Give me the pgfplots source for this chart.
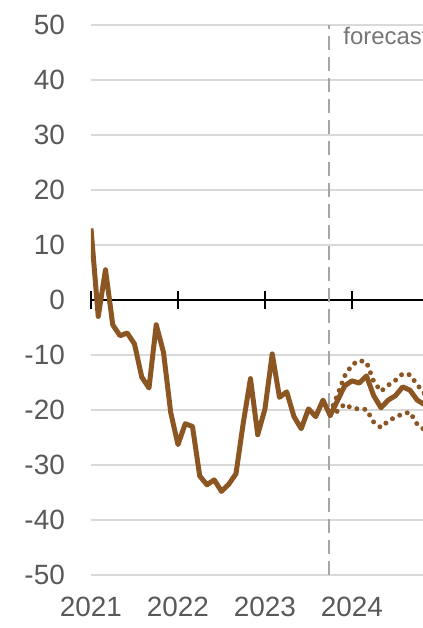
\documentclass[border=0pt]{standalone}
\usepackage{pgfplots}
\pgfplotsset{compat=1.18}
\usepackage{fontspec}
\setmainfont{Liberation Sans}
\definecolor{brn}{RGB}{140,86,35}
\definecolor{grd}{RGB}{217,217,217}
\definecolor{lbl}{RGB}{89,89,89}
\definecolor{dsh}{RGB}{166,166,166}
\pgfplotstableread{
m v
0 13
1 -3
2 5.5
3 -4.5
4 -6.5
5 -6
6 -8
7 -14
8 -16
9 -4.5
10 -9.5
11 -20.5
12 -26.3
13 -22.5
14 -23
15 -32
16 -33.6
17 -32.7
18 -34.8
19 -33.5
20 -31.6
21 -22.4
22 -14.3
23 -24.5
24 -19.8
25 -9.8
26 -17.7
27 -16.7
28 -21.2
29 -23.4
30 -19.8
31 -21.2
32 -18.2
33 -21
34 -18.3
35 -15.6
36 -14.7
37 -15.1
38 -13.8
39 -17.4
40 -19.6
41 -18.2
42 -17.4
43 -15.8
44 -16.4
45 -18.2
46 -19
}\centraltab
\pgfplotstableread{
m v
33 -20.5
34 -17.3
35 -13.8
36 -11.8
37 -11
38 -11.3
39 -14.8
40 -16.6
41 -15.5
42 -14.6
43 -13.4
44 -13.6
45 -15.4
46 -17
}\uppertab
\pgfplotstableread{
m v
33 -21
34 -20.2
35 -18.9
36 -19.7
37 -19.8
38 -19.9
39 -22.2
40 -23.2
41 -22
42 -21.3
43 -20.7
44 -20.4
45 -22.6
46 -23.6
}\lowertab
\begin{document}
\begin{tikzpicture}
\useasboundingbox (-91bp,-53bp) rectangle (332bp,575bp);
\begin{axis}[
  scale only axis, width=332bp, height=550bp,
  at={(0,0)}, anchor=south west,
  xmin=0, xmax=45.8, ymin=-50, ymax=50,
  axis line style={draw=none},
  ytick={-50,-40,...,50},
  xtick={0,12,24,36}, xticklabels={2021,2022,2023,2024},
  major tick length=0pt,
  ymajorgrids, grid style={grd, line width=1.3bp},
  tick label style={font=\fontsize{28}{34}\selectfont, text=lbl},
  /pgf/number format/assume math mode=true,
  yticklabel style={inner sep=0pt, xshift=-26bp},
  xticklabel style={inner sep=0pt, yshift=-22bp},
  clip mode=individual,
]
\draw[black, line width=1.5bp] (axis cs:0,0) -- (axis cs:45.8,0);
\draw[black, line width=1.5bp] (axis cs:0,-1.7) -- (axis cs:0,1.7);
\draw[black, line width=1.5bp] (axis cs:12,-1.7) -- (axis cs:12,1.7);
\draw[black, line width=1.5bp] (axis cs:24,-1.7) -- (axis cs:24,1.7);
\draw[black, line width=1.5bp] (axis cs:36,-1.7) -- (axis cs:36,1.7);
\draw[dsh, line width=1.5bp, dash pattern=on 14bp off 7bp] (axis cs:32.8,-50) -- (axis cs:32.8,50);
\addplot[brn, line width=5bp, line cap=round, dash pattern=on 0bp off 8bp] table[x=m,y=v] {\uppertab};
\addplot[brn, line width=5bp, line cap=round, dash pattern=on 0bp off 8bp] table[x=m,y=v] {\lowertab};
\addplot[brn, line width=5bp, line join=round] table[x=m,y=v] {\centraltab};
\node[anchor=base west, font=\fontsize{24}{28}\selectfont, text={rgb,255:red,118;green,118;blue,118}, inner sep=0pt] at (axis cs:34.8,46.4) {forecast};
\end{axis}
\end{tikzpicture}
\end{document}
